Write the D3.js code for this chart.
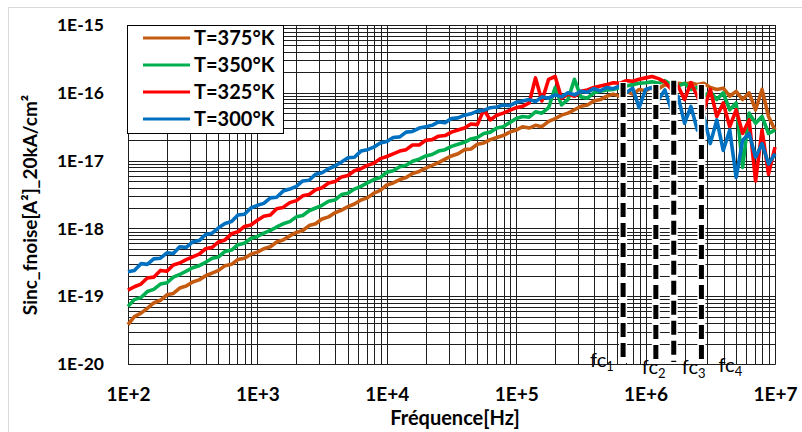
<!DOCTYPE html>
<html><head><meta charset="utf-8">
<script src="https://cdn.jsdelivr.net/npm/d3@7"></script>
<style>body{margin:0;background:#fff} svg{display:block}</style>
</head><body><svg id="c" width="802" height="432"></svg>
<script>
const freq = [100,112,126,141,158,178,200,224,251,282,316,355,398,447,501,562,631,708,794,891,
1000,1120,1260,1410,1580,1780,2000,2240,2510,2820,3160,3550,3980,4470,5010,5620,6310,7080,7940,8910,
1e4,1.12e4,1.26e4,1.41e4,1.58e4,1.78e4,2e4,2.24e4,2.51e4,2.82e4,3.16e4,3.55e4,3.98e4,4.47e4,5.01e4,5.62e4,6.31e4,7.08e4,7.94e4,8.91e4,
1e5,1.12e5,1.26e5,1.41e5,1.58e5,1.78e5,2e5,2.24e5,2.51e5,2.82e5,3.16e5,3.55e5,3.98e5,4.47e5,5.01e5,5.62e5,6.31e5,7.08e5,7.94e5,8.91e5,
1e6,1.12e6,1.26e6,1.41e6,1.58e6,1.78e6,2e6,2.24e6,2.51e6,2.82e6,3.16e6,3.55e6,3.98e6,4.47e6,5.01e6,5.62e6,6.31e6,7.08e6,7.94e6,8.91e6,
1e7];

const s375 = [3.80e-20,5.01e-20,5.62e-20,6.61e-20,7.94e-20,8.71e-20,1.05e-19,1.10e-19,1.32e-19,1.41e-19,
1.62e-19,1.74e-19,2.00e-19,2.19e-19,2.40e-19,2.82e-19,2.95e-19,3.47e-19,3.63e-19,4.17e-19,
4.47e-19,5.01e-19,5.37e-19,6.31e-19,6.76e-19,7.76e-19,8.71e-19,9.33e-19,1.10e-18,1.17e-18,
1.38e-18,1.48e-18,1.70e-18,1.86e-18,2.09e-18,2.29e-18,2.63e-18,2.82e-18,3.31e-18,3.63e-18,
4.37e-18,4.68e-18,5.25e-18,5.62e-18,6.46e-18,6.92e-18,7.76e-18,8.51e-18,9.33e-18,1.05e-17,
1.17e-17,1.26e-17,1.45e-17,1.48e-17,1.74e-17,1.82e-17,2.04e-17,2.19e-17,2.34e-17,2.63e-17,
2.82e-17,3.16e-17,3.02e-17,3.31e-17,3.16e-17,3.80e-17,4.17e-17,4.68e-17,5.01e-17,5.62e-17,
6.31e-17,6.61e-17,7.59e-17,7.94e-17,8.91e-17,9.55e-17,8.91e-17,1.05e-16,9.55e-17,1.12e-16,
1.07e-16,1.20e-16,1.15e-16,1.32e-16,1.26e-16,1.38e-16,1.35e-16,1.41e-16,1.32e-16,1.38e-16,
1.20e-16,1.12e-16,1.17e-16,8.91e-17,1.05e-16,7.94e-17,1.00e-16,5.62e-17,1.12e-16,4.47e-17,
2.82e-17];

const s350 = [7.08e-20,8.91e-20,9.55e-20,1.17e-19,1.26e-19,1.51e-19,1.58e-19,1.91e-19,2.09e-19,2.34e-19,
2.63e-19,2.82e-19,3.16e-19,3.63e-19,3.80e-19,4.57e-19,4.79e-19,5.75e-19,6.03e-19,7.08e-19,
7.59e-19,8.51e-19,9.33e-19,1.05e-18,1.17e-18,1.26e-18,1.48e-18,1.55e-18,1.82e-18,2.00e-18,
2.19e-18,2.51e-18,2.63e-18,3.16e-18,3.31e-18,3.80e-18,4.17e-18,4.68e-18,5.25e-18,5.62e-18,
6.76e-18,7.08e-18,8.13e-18,8.51e-18,9.77e-18,1.05e-17,1.17e-17,1.23e-17,1.38e-17,1.45e-17,
1.62e-17,1.74e-17,1.86e-17,2.09e-17,2.19e-17,2.51e-17,2.63e-17,3.02e-17,3.16e-17,3.63e-17,
4.17e-17,4.47e-17,4.37e-17,5.25e-17,5.01e-17,6.03e-17,1.20e-16,6.61e-17,7.94e-17,1.58e-16,
8.71e-17,8.32e-17,1.00e-16,1.05e-16,1.10e-16,1.12e-16,1.20e-16,1.26e-16,1.32e-16,1.38e-16,
1.41e-16,1.45e-16,1.38e-16,1.51e-16,1.32e-16,1.26e-16,1.38e-16,1.12e-16,1.20e-16,8.91e-17,
1.05e-16,7.94e-17,1.00e-16,5.62e-17,7.08e-17,7.94e-18,5.01e-17,3.55e-17,4.47e-17,2.51e-17,
2.82e-17];

const s325 = [1.23e-19,1.38e-19,1.51e-19,1.86e-19,1.91e-19,2.40e-19,2.34e-19,2.88e-19,3.09e-19,3.47e-19,
3.80e-19,4.17e-19,5.01e-19,5.25e-19,6.31e-19,6.76e-19,8.32e-19,8.91e-19,1.07e-18,1.12e-18,
1.32e-18,1.51e-18,1.58e-18,1.95e-18,2.04e-18,2.40e-18,2.57e-18,3.02e-18,3.16e-18,3.72e-18,
3.98e-18,4.68e-18,4.90e-18,5.75e-18,6.03e-18,7.08e-18,7.59e-18,8.51e-18,9.12e-18,1.07e-17,
1.15e-17,1.26e-17,1.38e-17,1.45e-17,1.70e-17,1.70e-17,2.00e-17,2.04e-17,2.29e-17,2.34e-17,
2.63e-17,2.82e-17,3.02e-17,3.47e-17,3.39e-17,5.62e-17,3.98e-17,4.68e-17,5.01e-17,5.50e-17,
6.03e-17,6.31e-17,7.08e-17,1.66e-16,7.59e-17,1.58e-16,1.74e-16,8.32e-17,9.55e-17,8.91e-17,
1.05e-16,1.10e-16,1.20e-16,1.26e-16,1.32e-16,1.41e-16,1.38e-16,1.51e-16,1.48e-16,1.58e-16,
1.66e-16,1.74e-16,1.62e-16,1.45e-16,1.12e-16,1.26e-16,7.94e-17,1.41e-16,8.91e-17,5.62e-17,
1.12e-16,4.47e-17,7.08e-17,3.16e-17,5.62e-17,2.51e-17,3.98e-17,5.01e-18,2.82e-17,6.31e-18,
1.58e-17];

const s300 = [2.29e-19,2.40e-19,3.02e-19,2.95e-19,3.55e-19,3.63e-19,4.37e-19,4.27e-19,5.37e-19,5.25e-19,
6.31e-19,6.61e-19,8.13e-19,8.51e-19,1.02e-18,1.18e-18,1.26e-18,1.58e-18,1.62e-18,2.00e-18,
2.19e-18,2.34e-18,2.82e-18,2.88e-18,3.55e-18,3.80e-18,4.17e-18,5.01e-18,5.13e-18,6.31e-18,
6.61e-18,7.59e-18,8.32e-18,9.55e-18,1.10e-17,1.12e-17,1.38e-17,1.45e-17,1.58e-17,1.82e-17,
1.91e-17,2.19e-17,2.24e-17,2.63e-17,2.69e-17,3.02e-17,3.16e-17,3.31e-17,3.72e-17,3.63e-17,
4.17e-17,4.27e-17,4.68e-17,4.90e-17,5.37e-17,5.50e-17,6.03e-17,6.17e-17,6.61e-17,6.46e-17,
7.24e-17,7.59e-17,7.94e-17,7.41e-17,8.71e-17,8.32e-17,9.33e-17,8.71e-17,1.00e-16,9.33e-17,
1.05e-16,1.02e-16,1.15e-16,1.07e-16,1.20e-16,1.15e-16,1.26e-16,1.00e-16,1.17e-16,6.03e-17,
1.12e-16,1.20e-16,7.94e-17,1.10e-16,5.62e-17,8.91e-17,3.55e-17,6.31e-17,2.82e-17,4.47e-17,
1.78e-17,3.98e-17,1.41e-17,2.82e-17,5.62e-18,2.00e-17,2.51e-17,1.12e-17,1.78e-17,8.91e-18,
1.26e-17];

const seriesNames = ["T=375°K","T=350°K","T=325°K","T=300°K"];
const seriesColors = ["#C55A11","#00B050","#FF0000","#0070C0"];
const seriesValues = [s375, s350, s325, s300];

const xTickValues = [1e2,1e3,1e4,1e5,1e6,1e7];
const xTickLabels = ["1E+2","1E+3","1E+4","1E+5","1E+6","1E+7"];
const yTickValues = [1e-20,1e-19,1e-18,1e-17,1e-16,1e-15];
const yTickLabels = ["1E-20","1E-19","1E-18","1E-17","1E-16","1E-15"];

const fcIndex = ["1","2","3","4"];
const fcFreq = [6.7e5,1.2e6,1.65e6,2.7e6];
const fcTop = [1.4e-16,1.3e-16,1.5e-16,1.3e-16];

// ---------- layout ----------
const W = 802, H = 432;
const m = {l:128, r:775, t:25, b:364};
const font = "Lato, 'Open Sans', 'DejaVu Sans', sans-serif";
const fcLabelLayout = [{dx:-33,y:367},{dx:-14,y:374},{dx:8,y:374},{dx:17,y:372}];

const svg = d3.select("#c");
const x = d3.scaleLog().domain([1e2,1e7]).range([m.l,m.r]);
const y = d3.scaleLog().domain([1e-20,1e-15]).range([m.b,m.t]);

// chart area border
svg.append("rect").attr("x",8.5).attr("y",7.5).attr("width",W).attr("height",H)
  .attr("fill","#fff").attr("stroke","#d9d9d9");

// grid
const grid = svg.append("g").attr("stroke","#1e1e1e").attr("stroke-width",1);
const px = v => Math.round(v) + 0.5;
grid.selectAll("line.gx").data(x.ticks()).join("line").attr("class","gx")
  .attr("x1",d=>px(x(d))).attr("x2",d=>px(x(d))).attr("y1",m.t).attr("y2",m.b+0.5);
grid.selectAll("line.gy").data(y.ticks()).join("line").attr("class","gy")
  .attr("y1",d=>px(y(d))).attr("y2",d=>px(y(d))).attr("x1",m.l).attr("x2",m.r+0.5);

// series
const line = d3.line().x(d=>x(d[0])).y(d=>y(d[1]));
const gS = svg.append("g");
seriesValues.forEach((vals,k)=>{
  gS.append("path").datum(freq.map((f,i)=>[f,vals[i]]))
    .attr("d",line).attr("fill","none").attr("stroke",seriesColors[k])
    .attr("stroke-width",3.6).attr("stroke-linejoin","round");
});

// fc dashed lines
const gF = svg.append("g");
fcFreq.forEach((f,i)=>{
  const xx = x(f);
  gF.append("line").attr("x1",xx).attr("x2",xx).attr("y1",y(fcTop[i])-1).attr("y2",m.b-1)
    .attr("stroke","#fff").attr("stroke-width",8);
  gF.append("line").attr("x1",xx).attr("x2",xx).attr("y1",y(fcTop[i])).attr("y2",m.b-2)
    .attr("stroke","#000").attr("stroke-width",5).attr("stroke-dasharray","14,6");
  const t = gF.append("text").attr("x",xx+fcLabelLayout[i].dx).attr("y",fcLabelLayout[i].y)
    .attr("font-family",font).attr("font-size",20).attr("fill","#000");
  t.append("tspan").text("fc");
  t.append("tspan").attr("font-size",13).attr("dy",4).text(fcIndex[i]);
});

// axes labels
const gx = svg.append("g").attr("transform",`translate(0,${m.b})`)
  .call(d3.axisBottom(x).tickValues(xTickValues).tickFormat((d,i)=>xTickLabels[i]).tickSize(0).tickPadding(24));
gx.select(".domain").remove();
gx.selectAll("text").attr("font-family",font).attr("font-weight","bold").attr("font-size",19).attr("fill","#000");

const gy = svg.append("g").attr("transform",`translate(${m.l},0)`)
  .call(d3.axisLeft(y).tickValues(yTickValues).tickFormat((d,i)=>yTickLabels[i]).tickSize(0).tickPadding(24));
gy.select(".domain").remove();
gy.selectAll("text").attr("font-family",font).attr("font-weight","bold").attr("font-size",17.5).attr("fill","#000");

// axis titles
svg.append("text").attr("x",455).attr("y",425).attr("text-anchor","middle")
  .attr("font-family",font).attr("font-weight","bold").attr("font-size",20).text("Fréquence[Hz]");
svg.append("text").attr("transform","translate(37,205) rotate(-90)").attr("text-anchor","middle")
  .attr("font-family",font).attr("font-weight","bold").attr("font-size",19).text("Sinc_fnoise[A²]_20kA/cm²");

// legend
const lg = svg.append("g");
lg.append("rect").attr("x",127.5).attr("y",25.5).attr("width",156).attr("height",108)
  .attr("fill","#fff").attr("stroke","#000");
seriesNames.forEach((n,k)=>{
  const yy = 38 + k*27;
  lg.append("line").attr("x1",143).attr("x2",190).attr("y1",yy).attr("y2",yy)
    .attr("stroke",seriesColors[k]).attr("stroke-width",3);
  lg.append("text").attr("x",194).attr("y",yy).attr("dy","0.36em")
    .attr("font-family",font).attr("font-weight","bold").attr("font-size",20).text(n);
});
</script></body></html>
